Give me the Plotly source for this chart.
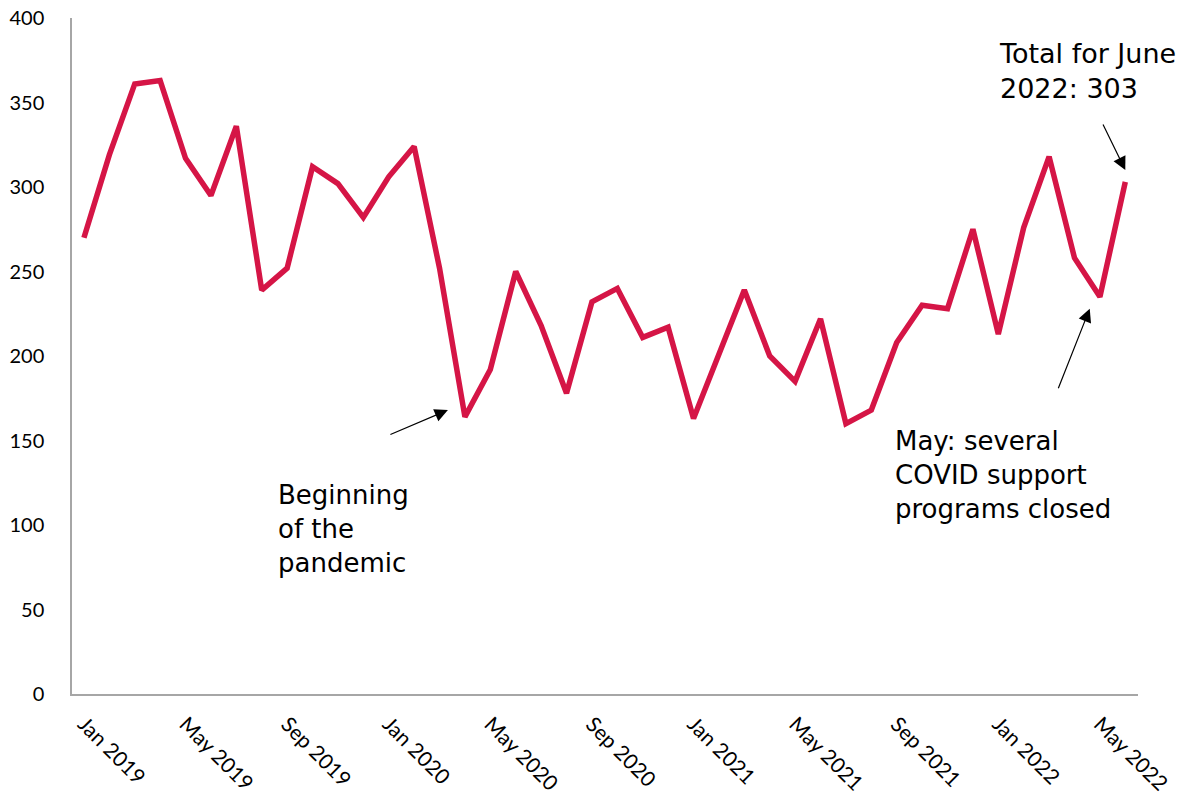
import plotly.graph_objects as go

# Monthly totals, January 2019 through June 2022
years = [2019, 2020, 2021, 2022]
month_names = ["Jan", "Feb", "Mar", "Apr", "May", "Jun",
               "Jul", "Aug", "Sep", "Oct", "Nov", "Dec"]
month_labels = [f"{m} {y}" for y in years for m in month_names][:42]

totals = [
    270, 319, 361, 363, 317, 295, 336, 239, 252, 312, 302, 282,   # 2019
    306, 324, 252, 164, 192, 250, 218, 178, 232, 240, 211, 217,   # 2020
    163, 201, 239, 200, 185, 222, 160, 168, 208, 230, 228, 275,   # 2021
    213, 276, 318, 258, 235, 303,                                 # 2022
]

x_idx = list(range(len(totals)))
tick_idx = x_idx[::4]
tick_text = [month_labels[i] for i in tick_idx]

LINE_COLOR = "#D51546"
AXIS_COLOR = "#A6A6A6"
Y_TICK_FONT = dict(family="Lato", size=20, color="#000000")
X_TICK_FONT = dict(family="Lato", size=21, color="#000000")
NOTE_FONT = dict(family="DejaVu Sans", size=26, color="#000000")
TOTAL_FONT = dict(family="DejaVu Sans", size=27, color="#000000")

fig = go.Figure()
fig.add_trace(go.Scatter(
    x=x_idx, y=totals, mode="lines",
    line=dict(color=LINE_COLOR, width=5.5),
    hoverinfo="skip", showlegend=False,
))

# Text notes
fig.add_annotation(x=7.55, y=128, xref="x", yref="y", xanchor="left", yanchor="top",
                   text="Beginning<br>of the<br>pandemic", showarrow=False,
                   align="left", font=NOTE_FONT)
fig.add_annotation(x=31.85, y=160, xref="x", yref="y", xanchor="left", yanchor="top",
                   text="May: several<br>COVID support<br>programs closed", showarrow=False,
                   align="left", font=NOTE_FONT)
fig.add_annotation(x=35.95, y=389.5, xref="x", yref="y", xanchor="left", yanchor="top",
                   text="Total for June<br>2022: 303", showarrow=False,
                   align="left", font=TOTAL_FONT)

# Arrows pointing at the notable months
arrows = [
    (14.33, 168, -59, 25),
    (41.0, 310, -23, -47),
    (39.6, 228, -32, 81),
]
for ax_x, ax_y, dx, dy in arrows:
    fig.add_annotation(x=ax_x, y=ax_y, xref="x", yref="y", text="",
                       showarrow=True, ax=dx, ay=dy, axref="pixel", ayref="pixel",
                       arrowhead=2, arrowsize=2.2, arrowwidth=1.2,
                       arrowcolor="#000000", standoff=0)

fig.update_layout(
    width=1191, height=795,
    margin=dict(l=72, r=53, t=18, b=101),
    paper_bgcolor="#FFFFFF", plot_bgcolor="#FFFFFF",
    xaxis=dict(
        range=[-0.47, 41.5], tickmode="array", tickvals=tick_idx, ticktext=tick_text,
        tickangle=45, tickfont=X_TICK_FONT, showgrid=False, zeroline=False,
        showline=True, linecolor=AXIS_COLOR, linewidth=1.5, ticks="",
        ticklabelstandoff=8, automargin=False,
    ),
    yaxis=dict(
        range=[0, 400], tickmode="array", tickvals=list(range(0, 401, 50)),
        tickfont=Y_TICK_FONT, showgrid=False, zeroline=False,
        showline=True, linecolor=AXIS_COLOR, linewidth=1.5, ticks="",
        ticklabelstandoff=22, automargin=False,
    ),
)

fig.write_html("out.html")
